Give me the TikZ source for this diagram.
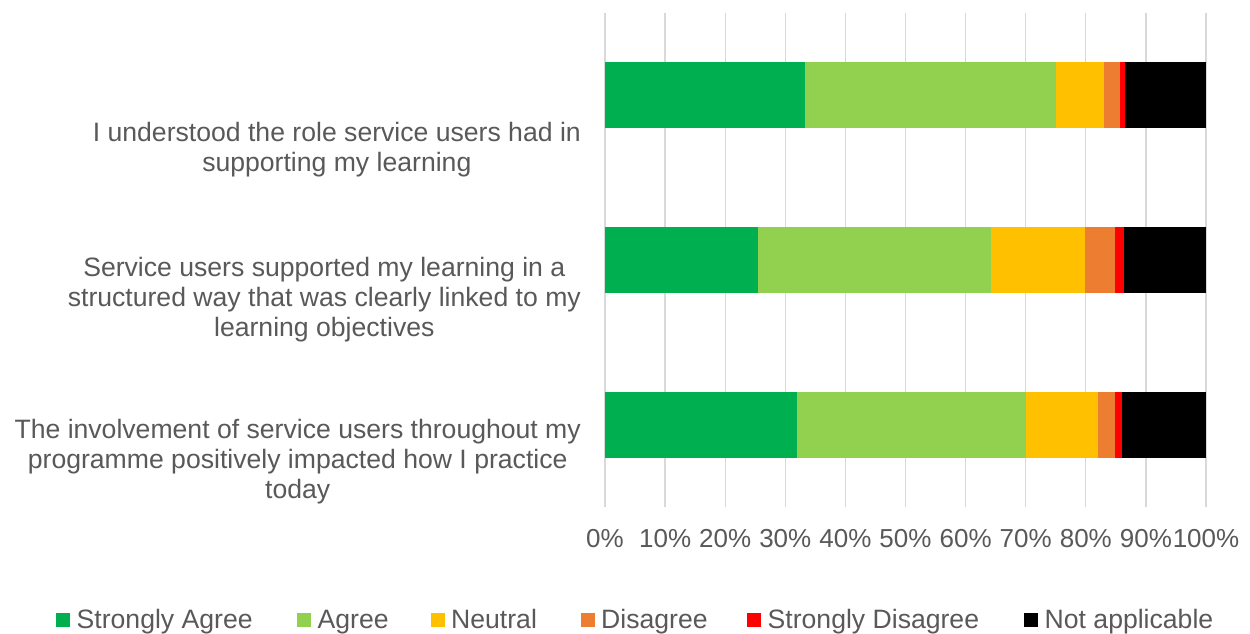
\documentclass[tikz,border=0pt]{standalone}
\usepackage{fontspec}
\setmainfont{Liberation Sans}
\definecolor{sa}{HTML}{00B050}
\definecolor{ag}{HTML}{92D050}
\definecolor{ne}{HTML}{FFC000}
\definecolor{di}{HTML}{ED7D31}
\definecolor{sd}{HTML}{FF0000}
\definecolor{na}{HTML}{000000}
\definecolor{txt}{HTML}{595959}
\definecolor{gridc}{HTML}{D9D9D9}
\newcommand\hbarrow[2]{%
  \foreach \a/\b/\c in {#2}{\fill[\c] ({605+6.01*\a},#1) rectangle ({605+6.01*\b},{#1+66});}}
\begin{document}
\begin{tikzpicture}[x=1pt,y=-1pt,
  lbl/.style={text=txt, font=\fontsize{26.6}{30}\selectfont, inner sep=0pt},
  tick/.style={text=txt, font=\fontsize{26}{30}\selectfont, inner sep=0pt, anchor=base},
  gridline/.style={draw=gridc, line width=1.3pt},
  key/.style={inner sep=0pt, minimum size=14pt}]
\useasboundingbox (0,0) rectangle (1250,633);
\fill[white] (0,0) rectangle (1250,633);
% grid
\foreach \i in {0,...,10}{\draw[gridline] ({605+60.1*\i},13) -- ({605+60.1*\i},507);}
% bars
\hbarrow{62}{0/33.3/sa,33.3/75.1/ag,75.1/83.0/ne,83.0/85.7/di,85.7/86.6/sd,86.6/100/na}
\hbarrow{227}{0/25.4/sa,25.4/64.2/ag,64.2/79.9/ne,79.9/84.8/di,84.8/86.4/sd,86.4/100/na}
\hbarrow{392}{0/32.0/sa,32.0/70.0/ag,70.0/82.0/ne,82.0/84.8/di,84.8/86.1/sd,86.1/100/na}
% category labels (anchor = baseline of last line)
\node[lbl, align=center, anchor=base east] (c1) at (581,171.7) {I understood the role service users had in\\supporting my learning};
\node[lbl, align=center, anchor=base east] (c2) at (581,336.7) {Service users supported my learning in a\\structured way that was clearly linked to my\\learning objectives};
\node[lbl, align=center, anchor=base east] (c3) at (581,498.3) {The involvement of service users throughout my\\programme positively impacted how I practice\\today};
% tick labels
\foreach \i in {0,...,10}{\node[tick] (t\i) at ({605+60.1*\i},547) {\the\numexpr\i*10\relax\%};}
% legend
\foreach \mx/\col/\name [count=\k] in {56/sa/Strongly Agree,297/ag/Agree,430.5/ne/Neutral,580.5/di/Disagree,747/sd/Strongly Disagree,1024/na/Not applicable}{
  \node[key, fill=\col, anchor=north west] (k\k) at (\mx,613) {};
  \node[lbl, anchor=base west] (l\k) at (\mx+20.5,628) {\name};
}
\end{tikzpicture}
\end{document}
